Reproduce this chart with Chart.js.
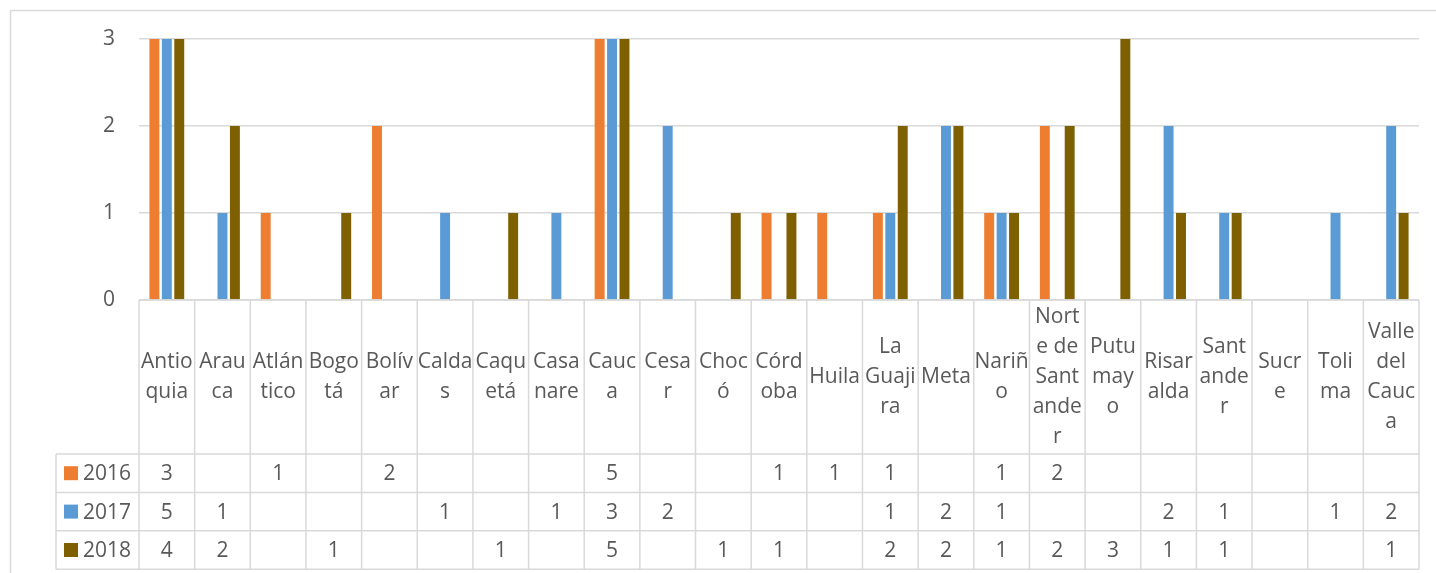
<!DOCTYPE html>
<html>
<head>
<meta charset="utf-8">
<script src="https://cdn.jsdelivr.net/npm/chart.js@4.4.0/dist/chart.umd.min.js"></script>
<style>
  html, body { margin: 0; padding: 0; background: #fff; }
  #wrap { width: 1436px; height: 573px; position: relative; }
</style>
</head>
<body>
<div id="wrap"><canvas id="chart"></canvas></div>
<script>
// departments (categories) and how Excel wrapped them in the table header
const departments = ['Antioquia', 'Arauca', 'Atlántico', 'Bogotá', 'Bolívar', 'Caldas', 'Caquetá',
  'Casanare', 'Cauca', 'Cesar', 'Chocó', 'Córdoba', 'Huila', 'La Guajira', 'Meta', 'Nariño',
  'Norte de Santander', 'Putumayo', 'Risaralda', 'Santander', 'Sucre', 'Tolima', 'Valle del Cauca'];
const headerLines = [
  ['Antio', 'quia'], ['Arau', 'ca'], ['Atlán', 'tico'], ['Bogo', 'tá'], ['Bolív', 'ar'],
  ['Calda', 's'], ['Caqu', 'etá'], ['Casa', 'nare'], ['Cauc', 'a'], ['Cesa', 'r'],
  ['Choc', 'ó'], ['Córd', 'oba'], ['Huila'], ['La', 'Guaji', 'ra'], ['Meta'], ['Nariñ', 'o'],
  ['Nort', 'e de', 'Sant', 'ande', 'r'], ['Putu', 'may', 'o'], ['Risar', 'alda'],
  ['Sant', 'ande', 'r'], ['Sucr', 'e'], ['Toli', 'ma'], ['Valle', 'del', 'Cauc', 'a']];

const years = ['2016', '2017', '2018'];
const values2016 = [3, null, 1, null, 2, null, null, null, 5, null, null, 1, 1, 1, null, 1, 2, null, null, null, null, null, null];
const values2017 = [5, 1, null, null, null, 1, null, 1, 3, 2, null, null, null, 1, 2, 1, null, null, 2, 1, null, 1, 2];
const values2018 = [4, 2, null, 1, null, null, 1, null, 5, null, 1, 1, null, 2, 2, 1, 2, 3, 1, 1, null, null, 1];
const yTicks = [0, 1, 2, 3];

const colors = ['#ED7D31', '#5B9BD5', '#7F6000'];
const seriesValues = [values2016, values2017, values2018];

const textColor = '#595959';
const lineColor = '#D9D9D9';
const fontSpec = '21px "Open Sans"';

// draws the outer frame and the Excel-like data table under the plot
const tablePlugin = {
  id: 'dataTable',
  afterDraw(chart) {
    const ctx = chart.ctx;
    const area = chart.chartArea;
    const n = departments.length;
    const colW = (area.right - area.left) / n;
    const top = area.bottom;
    const headH = 154;
    const rowH = 38.4;
    const legendLeft = 56;
    const tableBottom = top + headH + rowH * 3;

    ctx.save();
    // outer chart frame (cropped at right / bottom)
    ctx.strokeStyle = lineColor;
    ctx.lineWidth = 1.5;
    ctx.beginPath();
    ctx.moveTo(10.5, 600);
    ctx.lineTo(10.5, 10.5);
    ctx.lineTo(1500, 10.5);
    ctx.stroke();

    // table lines
    ctx.lineWidth = 1.5;
    ctx.beginPath();
    ctx.moveTo(area.left, top);
    ctx.lineTo(area.right, top);
    for (let r = 0; r <= 3; r++) {
      const y = top + headH + rowH * r;
      ctx.moveTo(legendLeft, y);
      ctx.lineTo(area.right, y);
    }
    for (let i = 0; i <= n; i++) {
      const x = area.left + colW * i;
      ctx.moveTo(x, top);
      ctx.lineTo(x, tableBottom);
    }
    ctx.moveTo(legendLeft, top + headH);
    ctx.lineTo(legendLeft, tableBottom);
    ctx.stroke();

    ctx.fillStyle = textColor;
    ctx.font = fontSpec;
    ctx.textAlign = 'center';
    ctx.textBaseline = 'middle';

    // header labels
    const lineH = 30;
    headerLines.forEach((lines, i) => {
      const cx = chart.scales.x.getPixelForValue(i);
      const cy = top + headH / 2 - (lines.length - 1) * lineH / 2;
      lines.forEach((t, k) => ctx.fillText(t, cx, cy + k * lineH));
    });

    // rows: legend key, year, values
    years.forEach((yr, r) => {
      const cy = top + headH + rowH * r + rowH / 2;
      ctx.fillStyle = colors[r];
      ctx.fillRect(64, cy - 7, 14, 14);
      ctx.fillStyle = textColor;
      ctx.textAlign = 'left';
      ctx.fillText(yr, 83, cy + 1);
      ctx.textAlign = 'center';
      seriesValues[r].forEach((v, i) => {
        if (v === null) return;
        ctx.fillText(String(v), chart.scales.x.getPixelForValue(i), cy + 1);
      });
    });
    ctx.restore();
  }
};

const ctx = document.getElementById('chart').getContext('2d');
new Chart(ctx, {
  type: 'bar',
  data: {
    labels: departments,
    datasets: years.map((yr, r) => ({
      label: yr,
      data: seriesValues[r],
      backgroundColor: colors[r],
      borderWidth: 0,
      categoryPercentage: 0.67,
      barPercentage: 0.8,
      clip: 0
    }))
  },
  options: {
    responsive: true,
    maintainAspectRatio: false,
    animation: false,
    layout: { padding: { top: 39, right: 17, bottom: 273, left: 0 } },
    plugins: {
      legend: { display: false },
      tooltip: { enabled: false }
    },
    scales: {
      x: {
        display: false
      },
      y: {
        min: 0,
        max: 3,
        afterFit(scale) { scale.width = 139; },
        afterBuildTicks(scale) { scale.ticks = yTicks.map(v => ({ value: v })); },
        border: { display: false },
        grid: { color: lineColor, lineWidth: 1.5, drawTicks: false },
        ticks: {
          color: textColor,
          padding: 24,
          font: { family: 'Open Sans', size: 21 }
        }
      }
    }
  },
  plugins: [tablePlugin]
});
</script>
</body>
</html>
